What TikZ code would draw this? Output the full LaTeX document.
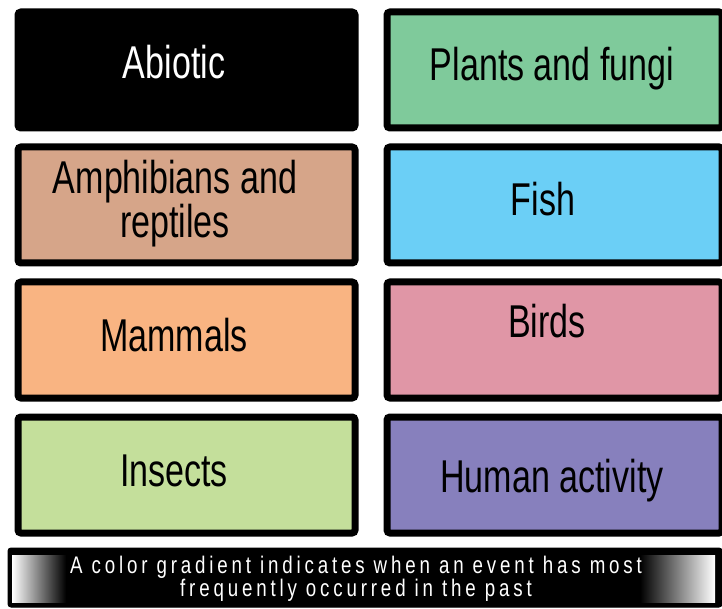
\documentclass[tikz,border=0pt]{standalone}
\usepackage{fontspec}
\setmainfont{Liberation Sans}
\newfontfamily\narrowfont[FakeStretch=0.74]{Liberation Sans}
\newfontfamily\barfont[FakeStretch=0.78,LetterSpace=16]{Liberation Sans}
\definecolor{cplants}{HTML}{7FCA9B}
\definecolor{camph}{HTML}{D6A589}
\definecolor{cfish}{HTML}{6BCFF6}
\definecolor{cmamm}{HTML}{F9B482}
\definecolor{cbirds}{HTML}{E096A6}
\definecolor{cinsect}{HTML}{C4DF9B}
\definecolor{chuman}{HTML}{8780BD}
\begin{document}
\begin{tikzpicture}[x=1pt,y=-1pt,
  catbox/.style={draw=black, line width=7pt, rounded corners=3pt,
    minimum height=116pt, inner sep=0pt, anchor=north west},
  leftbox/.style={catbox, minimum width=337pt},
  rightbox/.style={catbox, minimum width=335pt},
  lbl/.style={font=\narrowfont\fontsize{46}{41}\selectfont, anchor=base,
    inner sep=0pt, align=center},
  barlbl/.style={font=\barfont\fontsize{24}{21}\selectfont, text=white,
    anchor=center, inner sep=0pt, align=center}]
\useasboundingbox (0,0) rectangle (722,609);
\fill[white] (0,0) rectangle (722,609);
% left column
\node[leftbox, fill=black] (abiotic) at (14.5,8.5) {};
\node[leftbox, fill=camph] (amph) at (14.5,143.5) {};
\node[leftbox, fill=cmamm] (mamm) at (14.5,278.5) {};
\node[leftbox, fill=cinsect] (insect) at (14.5,413.5) {};
% right column
\node[rightbox, fill=cplants] (plants) at (383.5,8.5) {};
\node[rightbox, fill=cfish] (fish) at (383.5,143.5) {};
\node[rightbox, fill=cbirds] (birds) at (383.5,278.5) {};
\node[rightbox, fill=chuman] (human) at (383.5,413.5) {};
% labels
\node[lbl, text=white] (tabiotic) at (174,79) {Abiotic};
\node[lbl, anchor=center] (tamph) at (175,204) {Amphibians and\\reptiles};
\node[lbl] (tmamm) at (174,351) {Mammals};
\node[lbl] (tinsect) at (174,486) {Insects};
\node[lbl] (tplants) at (552,81) {Plants and fungi};
\node[lbl] (tfish) at (543,216) {Fish};
\node[lbl] (tbirds) at (547,337) {Birds};
\node[lbl] (thuman) at (552,492) {Human activity};
% bottom bar
\node[draw=black, fill=black, line width=1pt, rounded corners=3pt,
  minimum width=714pt, minimum height=59pt, inner sep=0pt, anchor=north west]
  (bar) at (7.5,547.5) {};
\shade[left color=white, right color=black] (12,555) rectangle (66,602);
\shade[left color=black, right color=white] (640,555) rectangle (715,602);
\node[barlbl] (bartext) at (356,579) {A color gradient indicates when an event has most\\frequently occurred in the past};
\end{tikzpicture}
\end{document}
